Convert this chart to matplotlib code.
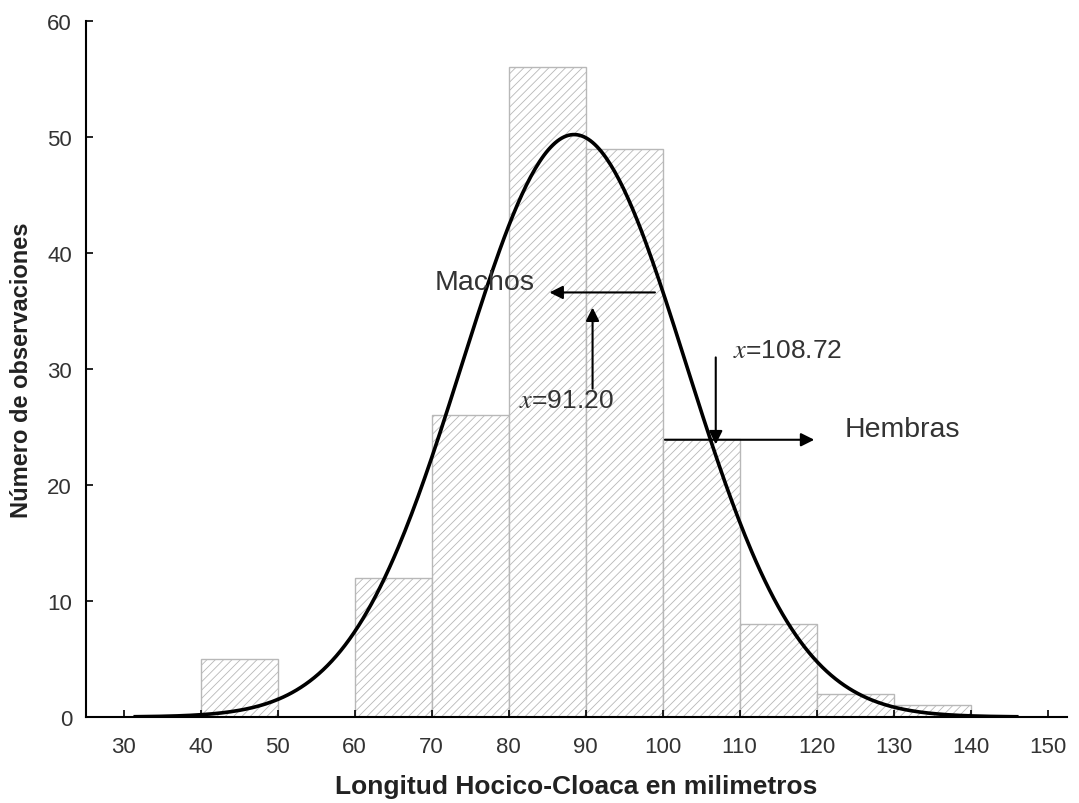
import numpy as np
import matplotlib
matplotlib.use("Agg")
import matplotlib.pyplot as plt

plt.rcParams['font.family'] = ['Liberation Sans', 'DejaVu Sans']
plt.rcParams['mathtext.fontset'] = 'stix'
plt.rcParams['hatch.linewidth'] = 0.6

# Data
bin_left = [40, 60, 70, 80, 90, 100, 110, 120, 130]
counts = [5, 12, 26, 56, 49, 24, 8, 2, 1]
bin_width = 10
fit_mean = 88.5
fit_sd = 14.54
curve_range = (31.5, 146)
x_ticks = [30, 40, 50, 60, 70, 80, 90, 100, 110, 120, 130, 140, 150]
y_ticks = [0, 10, 20, 30, 40, 50, 60]

fig = plt.figure(figsize=(10.79, 8.04), dpi=100)
ax = fig.add_axes([0.0797, 0.107, 0.909, 0.8656])

ax.bar(bin_left, counts, width=bin_width, align='edge', facecolor='white',
       edgecolor='#b8b8b8', hatch='////', linewidth=1.0)

n = sum(counts)
xs = np.linspace(curve_range[0], curve_range[1], 400)
ys = n * bin_width / (fit_sd * np.sqrt(2 * np.pi)) * np.exp(-0.5 * ((xs - fit_mean) / fit_sd) ** 2)
ax.plot(xs, ys, color='black', lw=2.6)

ax.set_xlim(25.1, 152.5)
ax.set_ylim(0, 60)
ax.set_xticks(x_ticks)
ax.set_yticks(y_ticks)
ax.tick_params(direction='in', length=5, width=1.2, labelsize=16, labelcolor='#333333')
ax.tick_params(axis='x', pad=14)
ax.tick_params(axis='y', pad=10)
for s in ['top', 'right']:
    ax.spines[s].set_visible(False)
for s in ['left', 'bottom']:
    ax.spines[s].set_linewidth(1.5)

ax.set_xlabel('Longitud Hocico-Cloaca en milimetros', fontsize=19, fontweight='bold',
              labelpad=12, color='#222222')
ax.set_ylabel('Número de observaciones', fontsize=17, fontweight='bold', labelpad=10,
              color='#222222')

ap = dict(arrowstyle='-|>', mutation_scale=20, lw=1.5, color='black', shrinkA=0, shrinkB=0)
ax.annotate('', xy=(85.3, 36.6), xytext=(99.0, 36.6), arrowprops=ap)
ax.annotate('', xy=(90.9, 35.3), xytext=(90.9, 28.3), arrowprops=ap)
ax.annotate('', xy=(106.9, 23.5), xytext=(106.9, 31.0), arrowprops=ap)
ax.annotate('', xy=(119.7, 23.9), xytext=(100.3, 23.9), arrowprops=ap)

ax.text(70.4, 37.5, 'Machos', fontsize=20.5, color='#333333', va='center', ha='left')
ax.text(123.6, 24.8, 'Hembras', fontsize=20.5, color='#333333', va='center', ha='left')
ax.text(81.4, 27.3, r'$x$=91.20', fontsize=19, color='#333333', va='center', ha='left')
ax.text(109.1, 31.6, r'$x$=108.72', fontsize=19, color='#333333', va='center', ha='left')

fig.savefig('out.png', dpi=100)
